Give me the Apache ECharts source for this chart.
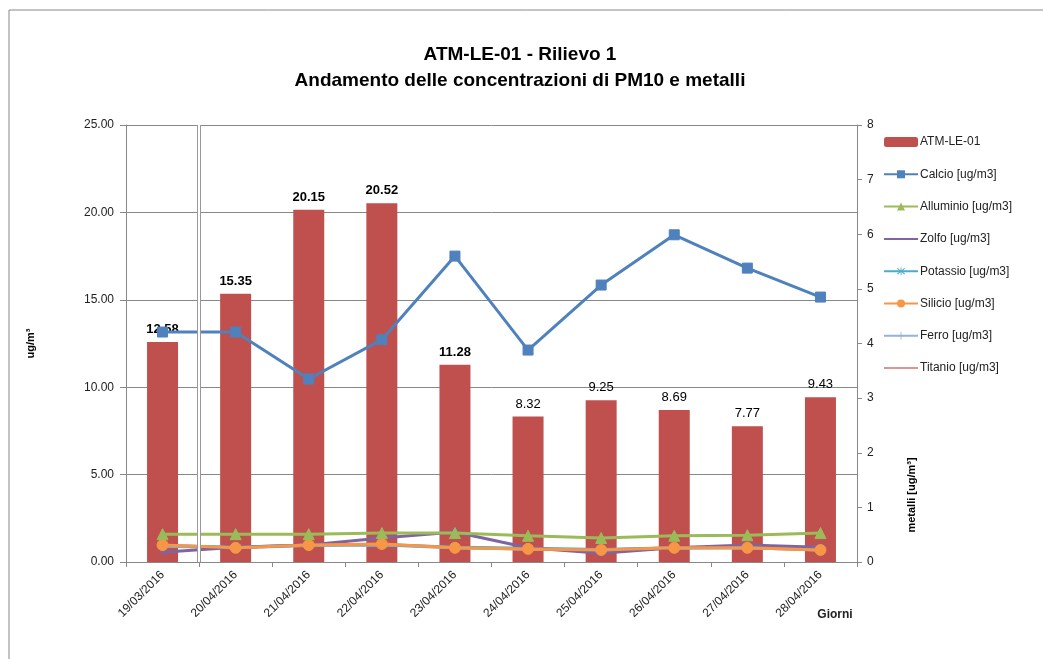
<!DOCTYPE html>
<html>
<head>
<meta charset="utf-8">
<script src="https://cdn.jsdelivr.net/npm/echarts@6/dist/echarts.min.js"></script>
<style>
html, body { margin: 0; padding: 0; background: #fff; }
#chart { width: 1043px; height: 659px; }
</style>
</head>
<body>
<div id="chart"></div>
<script>
// categories
const giorni = ['19/03/2016', '20/04/2016', '21/04/2016', '22/04/2016', '23/04/2016',
  '24/04/2016', '25/04/2016', '26/04/2016', '27/04/2016', '28/04/2016'];

// PM10 (left axis)
const pm10 = [12.58, 15.35, 20.15, 20.52, 11.28, 8.32, 9.25, 8.69, 7.77, 9.43];

// metalli (right axis)
const calcio = [4.21, 4.21, 3.35, 4.07, 5.60, 3.88, 5.07, 5.99, 5.38, 4.85];
const alluminio = [0.51, 0.51, 0.51, 0.53, 0.53, 0.48, 0.44, 0.48, 0.49, 0.53];
const zolfo = [0.18, 0.27, 0.31, 0.44, 0.55, 0.26, 0.16, 0.26, 0.31, 0.27];
const potassio = [0.30, 0.27, 0.31, 0.32, 0.27, 0.25, 0.23, 0.26, 0.27, 0.23];
const silicio = [0.31, 0.26, 0.31, 0.33, 0.26, 0.24, 0.22, 0.26, 0.26, 0.22];
const ferro = [0.29, 0.26, 0.30, 0.31, 0.26, 0.24, 0.22, 0.25, 0.26, 0.22];
const titanio = [0.30, 0.26, 0.31, 0.32, 0.26, 0.24, 0.22, 0.26, 0.26, 0.22];

const leftTicks = [0, 25, 5];
const rightTicks = [0, 8, 1];
// gap between the first two days (drawn as double line)
const gapAt = [0.5];

const boldLabels = 5;

const chart = echarts.init(document.getElementById('chart'));

const xSym = 'path://M0,0L10,10L5,5L10,0L0,10L5,5Z';
const plusSym = 'path://M4.5,0L5.5,0L5.5,4.5L10,4.5L10,5.5L5.5,5.5L5.5,10L4.5,10L4.5,5.5L0,5.5L0,4.5L4.5,4.5Z';
const starSym = 'path://M4.5,0L5.5,0L5.5,4L9,1L10,2L6,5L10,8L9,9L5.5,6L5.5,10L4.5,10L4.5,6L1,9L0,8L4,5L0,2L1,1L4.5,4Z';

function metal(name, data, color, symbol, size, extra) {
  return Object.assign({
    name: name,
    type: 'line',
    yAxisIndex: 1,
    data: data,
    symbol: symbol,
    symbolSize: size,
    showAllSymbol: true,
    lineStyle: { color: color, width: 3 },
    itemStyle: { color: color, borderColor: color },
    z: 3
  }, extra || {});
}

const option = {
  backgroundColor: '#fff',
  animation: false,
  textStyle: { fontFamily: 'Arial, "Liberation Sans", sans-serif' },
  title: {
    text: 'ATM-LE-01 - Rilievo 1\nAndamento delle concentrazioni di PM10 e metalli',
    left: 515,
    textAlign: 'center',
    top: 37,
    textStyle: { fontSize: 19, fontWeight: 'bold', color: '#000', lineHeight: 26 }
  },
  legend: {
    orient: 'vertical',
    left: 878,
    top: 131,
    itemGap: 20.3,
    itemWidth: 34,
    itemHeight: 10,
    textStyle: { fontSize: 12, color: '#222', padding: [0, 0, 0, -3] },
    data: ['ATM-LE-01', 'Calcio [ug/m3]', 'Alluminio [ug/m3]', 'Zolfo [ug/m3]',
      'Potassio [ug/m3]', 'Silicio [ug/m3]', 'Ferro [ug/m3]',
      { name: 'Titanio [ug/m3]', icon: 'path://M0,4L34,4L34,6L0,6Z' }]
  },
  grid: { left: 126, right: 186, top: 125, bottom: 97 },
  xAxis: [{
    type: 'category',
    data: giorni,
    axisLine: { lineStyle: { color: '#888' } },
    axisTick: { show: true, length: 5, lineStyle: { color: '#888' } },
    axisLabel: { rotate: 45, color: '#222', fontSize: 12, margin: 11 }
  }, {
    type: 'value',
    min: -0.5,
    max: giorni.length - 0.5,
    show: false
  }],
  yAxis: [{
    type: 'value',
    min: leftTicks[0],
    max: leftTicks[1],
    interval: leftTicks[2],
    name: 'ug/m³',
    nameLocation: 'middle',
    nameGap: 90,
    nameTextStyle: { fontWeight: 'bold', fontSize: 11, color: '#000' },
    axisLine: { show: true, onZero: false, lineStyle: { color: '#888' } },
    axisTick: { show: true, length: 6, lineStyle: { color: '#888' } },
    axisLabel: { color: '#222', fontSize: 12, formatter: v => v.toFixed(2), margin: 12 },
    splitLine: { show: true, lineStyle: { color: '#888', width: 1 } }
  }, {
    type: 'value',
    min: rightTicks[0],
    max: rightTicks[1],
    interval: rightTicks[2],
    position: 'right',
    axisLine: { show: true, onZero: false, lineStyle: { color: '#888' } },
    axisTick: { show: true, length: 5, lineStyle: { color: '#888' } },
    axisLabel: { color: '#222', fontSize: 12, margin: 10 },
    splitLine: { show: false }
  }],
  graphic: [{
    type: 'rect',
    shape: { x: 9, y: 10, width: 1100, height: 700 },
    style: { fill: 'none', stroke: '#888', lineWidth: 1 },
    silent: true
  }, {
    type: 'text',
    x: 912, y: 495,
    rotation: Math.PI / 2,
    style: { text: 'metalli [ug/m³]', fontSize: 11, fontWeight: 'bold', fill: '#000',
      align: 'center', verticalAlign: 'middle', fontFamily: 'Arial, sans-serif' }
  }, {
    type: 'text',
    x: 835, y: 615,
    style: { text: 'Giorni', fontSize: 12, fontWeight: 'bold', fill: '#222',
      align: 'center', verticalAlign: 'middle', fontFamily: 'Arial, sans-serif' }
  }],
  series: [{
    name: 'ATM-LE-01',
    type: 'bar',
    barWidth: 31,
    data: pm10.map((v, i) => ({
      value: v,
      label: { fontWeight: i < boldLabels ? 'bold' : 'normal' }
    })),
    itemStyle: { color: '#C0504D' },
    label: {
      show: true,
      position: 'top',
      distance: 6,
      color: '#000',
      fontSize: 13,
      formatter: p => p.value.toFixed(2)
    },
    z: 2
  }, {
    name: 'gap',
    type: 'line',
    xAxisIndex: 1,
    data: [],
    markLine: {
      silent: true,
      symbol: 'none',
      label: { show: false },
      data: [
        { xAxis: gapAt[0], lineStyle: { color: '#999', width: 4, type: 'solid' } },
        { xAxis: gapAt[0], lineStyle: { color: '#fff', width: 2, type: 'solid' } }
      ]
    },
    z: 1
  },
    metal('Titanio [ug/m3]', titanio, '#D99694', 'none', 0),
    metal('Ferro [ug/m3]', ferro, '#95B3D7', plusSym, 9),
    metal('Potassio [ug/m3]', potassio, '#4BACC6', starSym, 9),
    metal('Zolfo [ug/m3]', zolfo, '#8064A2', xSym, 8),
    metal('Silicio [ug/m3]', silicio, '#F79646', 'circle', 11),
    metal('Alluminio [ug/m3]', alluminio, '#9BBB59', 'triangle', 11),
    metal('Calcio [ug/m3]', calcio, '#4F81BD', 'rect', 10)
  ]
};

chart.setOption(option);
</script>
</body>
</html>
